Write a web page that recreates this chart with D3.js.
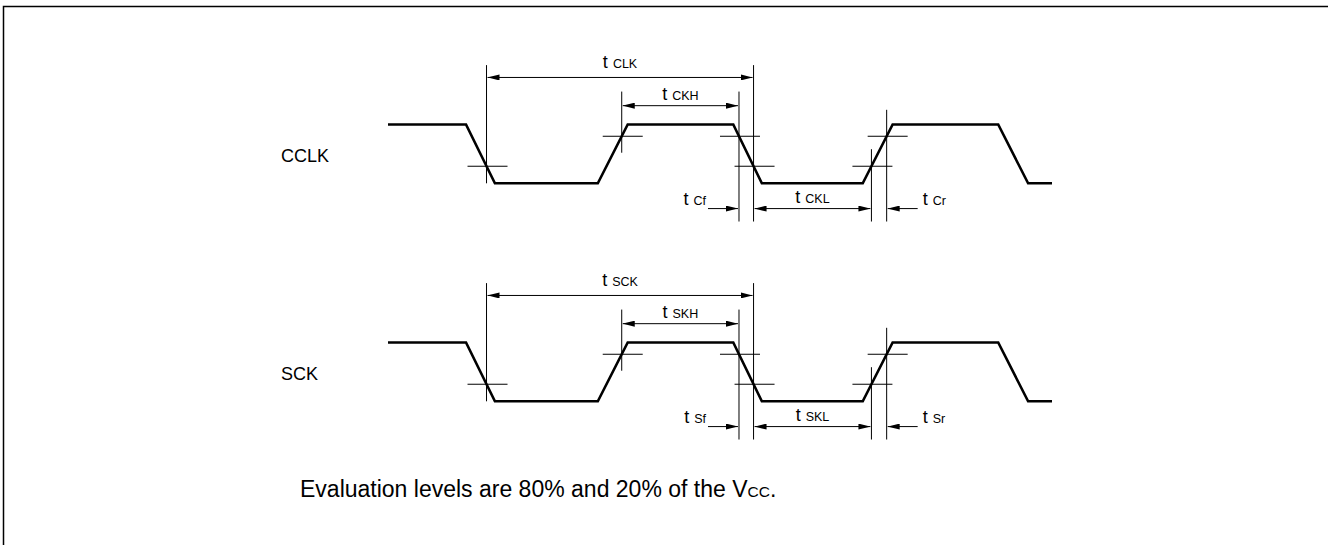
<!DOCTYPE html>
<html>
<head>
<meta charset="utf-8">
<script src="https://cdn.jsdelivr.net/npm/d3@7"></script>
<style>
  body { margin: 0; background: #fff; }
  text { font-family: "Liberation Sans", Arial, sans-serif; fill: #000; }
</style>
</head>
<body>
<svg id="chart" width="1328" height="545"></svg>
<script>
// signals drawn one under the other
var signals = ["CCLK", "SCK"]
var prefixes = ["C", "S"]

// waveform: time (0..100) and logic level (0 = low, 1 = high)
var waveT = [0, 11.75, 16.1, 31.6, 36.1, 52, 56.3, 71.5, 76, 91.9, 96.4, 100]
var waveV = [1, 1, 0, 0, 1, 1, 0, 0, 1, 1, 0, 0]

// edges the measurements are taken on: [start time, end time, from level, to level]
var edges = [
    [11.75, 16.1, 1, 0],
    [31.6, 36.1, 0, 1],
    [52, 56.3, 1, 0],
    [71.5, 76, 0, 1]
]

// crossing points: edge index, level crossed, vertical extent (levels)
var crossEdge = [0, 1, 2, 2, 3, 3]
var crossLevel = [0.29, 0.8, 0.8, 0.29, 0.29, 0.8]
var crossTop = [2.01, 1.56, 1.56, 2.01, 0.58, 1.25]
var crossBottom = [0, 0.52, -0.65, -0.65, -0.65, -0.65]

// dimension arrows: label suffix, from crossing, to crossing, level, kind
var dimNames = ["CLK", "KH", "f", "KL", "r"]
var dimFrom = [0, 1, 2, 3, 5]
var dimTo = [3, 2, 2, 4, 5]
var dimLevel = [1.80, 1.32, -0.43, -0.43, -0.43]
var dimKind = ["both", "both", "inLeft", "both", "inRight"]

var footnote = "Evaluation levels are 80% and 20% of the V"

var svg = d3.select("#chart")

// frame (only top and left edges are inside the picture)
svg.append("rect")
    .attr("x", 3.5).attr("y", 6.5)
    .attr("width", 1400).attr("height", 600)
    .attr("fill", "none").attr("stroke", "#000").attr("stroke-width", 1.5)

var x = d3.scaleLinear().domain([0, 100]).range([388, 1052])
var rowY = d3.scaleLinear().domain([0, 1]).range([0, 218])

var defs = svg.append("defs")
defs.append("marker")
    .attr("id", "head")
    .attr("viewBox", "0 0 12 6")
    .attr("refX", 12).attr("refY", 3)
    .attr("markerWidth", 12).attr("markerHeight", 6)
    .attr("markerUnits", "userSpaceOnUse")
    .attr("orient", "auto-start-reverse")
    .append("path").attr("d", "M0,0L12,3L0,6Z").attr("fill", "#000")

function crossX(i) {
    var e = edges[crossEdge[i]]
    var f = (crossLevel[i] - e[2]) / (e[3] - e[2])
    return x(e[0] + f * (e[1] - e[0]))
}

signals.forEach(function(name, r) {
    var y = d3.scaleLinear().domain([0, 1]).range([183.3 + rowY(r), 124.5 + rowY(r)])
    var g = svg.append("g")

    // row label
    g.append("text")
        .attr("x", 281).attr("y", y(0.37))
        .style("font-size", "18px")
        .text(name)

    // thin crossing marks
    var marks = g.append("g").attr("stroke", "#000").attr("stroke-width", 1)
    crossEdge.forEach(function(e, i) {
        var cx = crossX(i)
        marks.append("line")
            .attr("x1", cx).attr("x2", cx)
            .attr("y1", y(crossTop[i])).attr("y2", y(crossBottom[i]))
        marks.append("line")
            .attr("x1", cx - 19).attr("x2", cx + 21)
            .attr("y1", y(crossLevel[i])).attr("y2", y(crossLevel[i]))
    })

    // waveform
    var line = d3.line()
        .x(function(d) { return x(d) })
        .y(function(d, i) { return y(waveV[i]) })
    g.append("path")
        .attr("d", line(waveT))
        .attr("fill", "none")
        .attr("stroke", "#000")
        .attr("stroke-width", 2.6)
        .attr("stroke-linejoin", "miter")

    // dimension arrows and labels
    dimNames.forEach(function(d, i) {
        var x1 = crossX(dimFrom[i]), x2 = crossX(dimTo[i])
        var ay = y(dimLevel[i])
        var a = g.append("line")
            .attr("stroke", "#000").attr("stroke-width", 1)
            .attr("y1", ay).attr("y2", ay)
        var lx, ly, anchor
        if (dimKind[i] == "both") {
            a.attr("x1", x1 + 1).attr("x2", x2 - 1)
                .attr("marker-start", "url(#head)")
                .attr("marker-end", "url(#head)")
            lx = (x1 + x2) / 2
            ly = ay - (i == 0 ? 9.5 : 5.5)
            anchor = "middle"
        } else if (dimKind[i] == "inLeft") {
            a.attr("x1", x1 - 31).attr("x2", x1 - 1).attr("marker-end", "url(#head)")
            lx = x1 - 33
            ly = ay - 3.5
            anchor = "end"
        } else {
            a.attr("x1", x1 + 31).attr("x2", x1 + 1).attr("marker-end", "url(#head)")
            lx = x1 + 36
            ly = ay - 3.5
            anchor = "start"
        }
        var prefix = prefixes[r]
        var sub
        if (d == "CLK") sub = r == 0 ? "CLK" : "SCK"
        else sub = prefix + d
        var t = g.append("text")
            .attr("x", lx).attr("y", ly)
            .attr("text-anchor", anchor)
            .style("font-size", "18px")
        t.append("tspan").text("t ")
        t.append("tspan").style("font-size", "12.5px").text(sub)
    })
})

// footnote
var fn = svg.append("text")
    .attr("x", 300).attr("y", 497)
    .style("font-size", "23px")
fn.append("tspan").text(footnote)
fn.append("tspan").style("font-size", "15.5px").text("CC")
fn.append("tspan").text(".")
</script>
</body>
</html>
